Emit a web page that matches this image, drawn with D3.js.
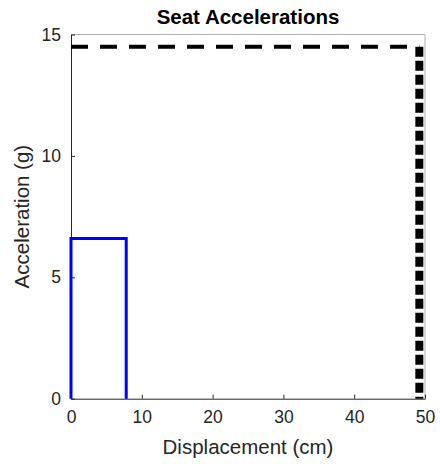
<!DOCTYPE html>
<html><head><meta charset="utf-8">
<script src="https://cdn.jsdelivr.net/npm/d3@7"></script>
<style>body{margin:0;background:#fff}svg{display:block}text{font-family:"Liberation Sans",Arial,sans-serif}</style>
</head><body>
<script>
const title = "Seat Accelerations";
const xLabel = "Displacement (cm)";
const yLabel = "Acceleration (g)";
const xTicks = [0, 10, 20, 30, 40, 50];
const yTicks = [0, 5, 10, 15];
const blueX = [0, 0, 7.8, 7.8];
const blueY = [0, 6.6, 6.6, 0];
const blackX = [0, 49.2, 49.2];
const blackY = [14.5, 14.5, 0];

const W = 440, H = 471;
const L = 71, R = 425, T = 34.5, B = 398.7;
const svg = d3.select("body").append("svg").attr("width", W).attr("height", H);
const x = d3.scaleLinear().domain([0, 50]).range([L, R]);
const y = d3.scaleLinear().domain([0, 15]).range([B, T]);

// box top/right
svg.append("line").attr("x1", L).attr("x2", R).attr("y1", T).attr("y2", T).attr("stroke", "#b0b0b0").attr("stroke-width", 1);
svg.append("line").attr("x1", R).attr("x2", R).attr("y1", T).attr("y2", B).attr("stroke", "#b0b0b0").attr("stroke-width", 1);

const xa = svg.append("g").attr("transform", `translate(0,${B})`)
  .call(d3.axisBottom(x).tickValues(xTicks).tickSizeInner(-4).tickSizeOuter(0).tickPadding(12));
const ya = svg.append("g").attr("transform", `translate(${L},0)`)
  .call(d3.axisLeft(y).tickValues(yTicks).tickSizeInner(-4).tickSizeOuter(0).tickPadding(10));
[xa, ya].forEach(g => {
  g.select(".domain").attr("stroke", "#262626");
  g.selectAll(".tick line").attr("stroke", "#262626");
  g.selectAll("text").attr("font-size", 17.5).attr("fill", "#262626").attr("font-family", "Liberation Sans, Arial, sans-serif");
});
xa.selectAll(".tick text").attr("dy", "0.71em");

const line = d3.line().x(d => x(d[0])).y(d => y(d[1]));
const bluePts = blueX.map((v, i) => [v, blueY[i]]);
svg.append("path").attr("d", line(bluePts)).attr("fill", "none").attr("stroke", "#0000ff").attr("stroke-width", 3).attr("stroke-linejoin", "miter");

const blackPts = blackX.map((v, i) => [v, blackY[i]]);
svg.append("path").attr("d", line(blackPts.slice(0, 2))).attr("fill", "none").attr("stroke", "#000").attr("stroke-width", 4).attr("stroke-dasharray", "17 12");
svg.append("path").attr("d", line(blackPts.slice(1, 3))).attr("fill", "none").attr("stroke", "#000").attr("stroke-width", 8).attr("stroke-dasharray", "10 4");

svg.append("text").attr("x", (L + R) / 2).attr("y", 24).attr("text-anchor", "middle")
  .attr("font-size", 20.5).attr("font-weight", "bold").attr("fill", "#000").text(title);
svg.append("text").attr("x", (L + R) / 2).attr("y", 454).attr("text-anchor", "middle")
  .attr("font-size", 20.5).attr("fill", "#262626").text(xLabel);
svg.append("text").attr("transform", `translate(29,${(T + B) / 2}) rotate(-90)`).attr("text-anchor", "middle")
  .attr("font-size", 20.5).attr("fill", "#262626").text(yLabel);
</script>
</body></html>
